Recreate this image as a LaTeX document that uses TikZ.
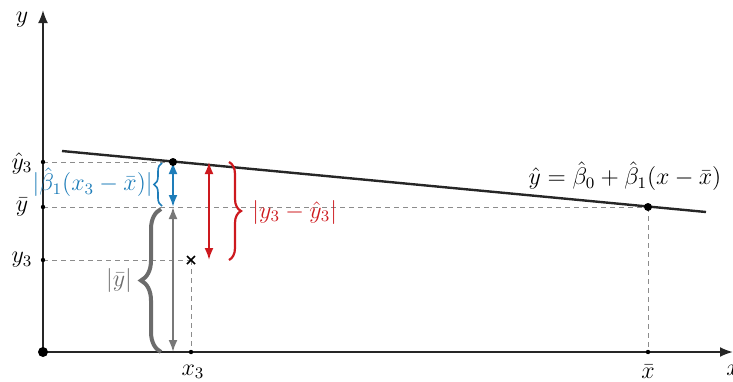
\documentclass[tikz,border=0pt]{standalone}
\usetikzlibrary{arrows.meta,decorations.pathreplacing}
\definecolor{cblue}{RGB}{30,125,185}
\definecolor{cred}{RGB}{205,25,30}
\definecolor{cgray}{RGB}{120,120,120}
\begin{document}
\begin{tikzpicture}[x=0.5pt,y=-0.5pt,
  font=\fontsize{12}{14}\selectfont,
  axis/.style={line width=1pt,draw=black!85,-{Latex[length=6.5pt,width=5pt]}},
  guide/.style={dashed,draw=black!45,line width=0.4pt,dash pattern=on 2.5pt off 2pt},
  regline/.style={line width=1.2pt,draw=black!85},
  dblarrow/.style={line width=1pt,{Latex[length=6pt,width=4.5pt]}-{Latex[length=6pt,width=4.5pt]}},
  smalldot/.style={circle,fill=black,inner sep=0pt,minimum size=2.2pt},
  bigdot/.style={circle,fill=black,inner sep=0pt,minimum size=4pt}
]
\useasboundingbox (0,0) rectangle (733,381);
% key points
\coordinate (O) at (43,352);
\coordinate (Ytop) at (43,10);
\coordinate (Xend) at (733,352);
\coordinate (L1) at (62,151);
\coordinate (L2) at (706,212);
\coordinate (P) at (173,162);
\coordinate (M) at (648,207);
\coordinate (Ty3h) at (43,162);
\coordinate (Tyb) at (43,207);
\coordinate (Ty3) at (43,260);
\coordinate (Tx3) at (191,352);
\coordinate (Txb) at (648,352);
\coordinate (C) at (191,260);
\coordinate (Bm) at (173,207);
\coordinate (Bz) at (173,352);
\coordinate (Rt) at (209,162);
\coordinate (Rb) at (209,260);
% guides
\draw[guide] (Ty3h) -- (P);
\draw[guide] (Tyb) -- (M);
\draw[guide] (Ty3) -- (C);
\draw[guide] (C) -- (Tx3);
\draw[guide] (M) -- (Txb);
% axes
\draw[axis] (O) -- (Ytop);
\draw[axis] (O) -- (Xend);
% regression line
\draw[regline] (L1) -- (L2);
% arrows
\draw[dblarrow,cblue] (P) -- (Bm);
\draw[dblarrow,cgray] (Bm) -- (Bz);
\draw[dblarrow,cred] (Rt) -- (Rb);
% braces
\draw[cblue,line width=0.8pt,decorate,decoration={brace,amplitude=4pt}] (162,206) -- (162,163);
\draw[cgray!90!black,line width=2pt,decorate,decoration={brace,amplitude=10pt}] (161,352) -- (161,209);
\draw[cred,line width=1.1pt,decorate,decoration={brace,amplitude=6pt}] (229,162) -- (229,260);
% cross
\draw[line width=0.8pt] (187,256) -- (195,264) (187,264) -- (195,256);
% dots
\node[bigdot,minimum size=5pt] (Od) at (O) {};
\node[bigdot] (Pd) at (P) {};
\node[bigdot] (Md) at (M) {};
\node[smalldot] (d1) at (Ty3h) {};
\node[smalldot] (d2) at (Tyb) {};
\node[smalldot] (d3) at (Ty3) {};
\node[smalldot] (d4) at (Tx3) {};
\node[smalldot] (d5) at (Txb) {};
% labels
\node (ly) at (22,20) {$y$};
\node (lx) at (733,370) {$x$};
\node (ly3h) at (22,163) {$\hat y_3$};
\node (lyb) at (22,207) {$\bar y$};
\node (ly3) at (22,260) {$y_3$};
\node (lx3) at (193,372) {$x_3$};
\node (lxb) at (648,372) {$\bar x$};
\node (eq) at (625,176) {$\hat y = \hat\beta_0 + \hat\beta_1(x-\bar x)$};
\node[cblue,anchor=east,inner sep=1pt] (lb) at (155,182) {$|\hat\beta_1(x_3-\bar x)|$};
\node[cgray!90!black] (lg) at (119,280) {$|\bar y|$};
\node[cred,anchor=west,inner sep=1pt] (lr) at (250,212) {$|y_3-\hat y_3|$};
\end{tikzpicture}
\end{document}
